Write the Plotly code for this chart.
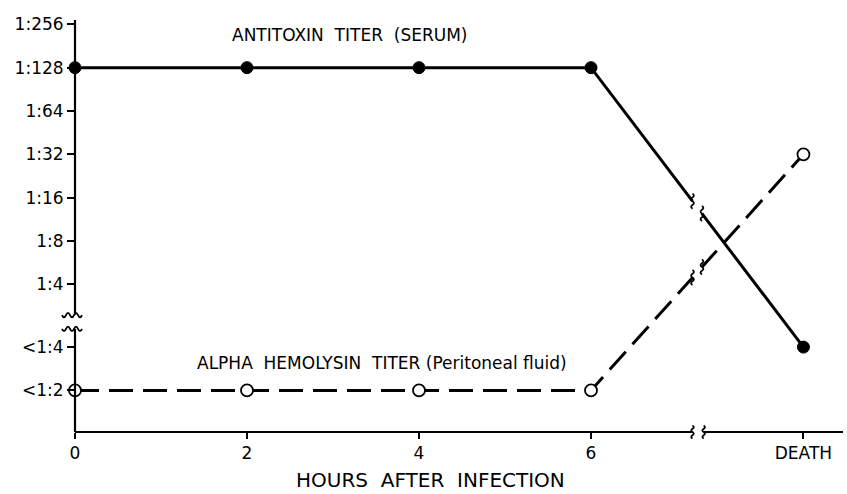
import plotly.graph_objects as go

# ---------------- data ----------------
hour_labels = ["0", "2", "4", "6", "DEATH"]
hours = [0, 2, 4, 6]
titer_levels = ["<1:2", "<1:4", "1:4", "1:8", "1:16", "1:32", "1:64", "1:128", "1:256"]
antitoxin = ["1:128", "1:128", "1:128", "1:128", "<1:4"]
hemolysin = ["<1:2", "<1:2", "<1:2", "<1:2", "1:32"]

# ---------------- layout constants ----------------
W, H = 847, 494
ML, MR, MT, MB = 75, 4, 20, 62
XR = [0, 8.93]
YR = [-0.96, 8.55]
DEATH_X = 8.47          # position of DEATH after the axis break
Y_GAP = 0.45            # extra space at the y-axis break
X_BREAK = (7.18, 7.31)
Y_BREAK = (1.42, 1.74)
LINE_BREAK = (7.18, 7.29)

PX = (W - ML - MR) / (XR[1] - XR[0])
PY = (H - MT - MB) / (YR[1] - YR[0])


def ypos(level):
    i = titer_levels.index(level)
    return i + (Y_GAP if i >= 2 else 0)


xs = hours + [DEATH_X]
y_anti = [ypos(v) for v in antitoxin]
y_hemo = [ypos(v) for v in hemolysin]


def px_(x, dx=0):
    return (x - XR[0]) / (XR[1] - XR[0]) + dx / (W - ML - MR)


def py_(y, dy=0):
    return (y - YR[0]) / (YR[1] - YR[0]) - dy / (H - MT - MB)


def pt(x, y, dx, dy):
    return f"{px_(x, dx):.5f},{py_(y, dy):.5f}"


def vwave(x, y, h=14, a=3.0):
    s = h / 4
    p = "M" + pt(x, y, 0, -2 * s)
    p += " Q" + pt(x, y, a, -1.5 * s) + " " + pt(x, y, 0, -s)
    p += " Q" + pt(x, y, -a, -0.5 * s) + " " + pt(x, y, 0, 0)
    p += " Q" + pt(x, y, a, 0.5 * s) + " " + pt(x, y, 0, s)
    p += " Q" + pt(x, y, -a, 1.5 * s) + " " + pt(x, y, 0, 2 * s)
    return p


def hwave(x, y, x0, x1, n=5, a=2.2):
    step = (x1 - x0) / n
    p = "M" + pt(x, y, x0, 0)
    for k in range(n):
        sgn = 1 if k % 2 == 0 else -1
        p += " Q" + pt(x, y, x0 + step * (k + 0.5), sgn * a * 2) + " " + pt(x, y, x0 + step * (k + 1), 0)
    return p


fig = go.Figure()

fig.add_trace(go.Scatter(
    x=xs, y=y_anti, mode="lines+markers",
    line=dict(color="black", width=3),
    marker=dict(size=12, color="black", line=dict(color="black", width=1)),
    cliponaxis=False, showlegend=False,
))
fig.add_trace(go.Scatter(
    x=xs, y=y_hemo, mode="lines+markers",
    line=dict(color="black", width=3, dash="24px,10px"),
    marker=dict(size=12, color="white", line=dict(color="black", width=1.8)),
    cliponaxis=False, showlegend=False,
))

shapes = []
black = dict(color="black", width=2.2)
# axis lines with breaks
shapes.append(dict(type="line", xref="paper", yref="paper", x0=px_(0), x1=px_(0),
                   y0=py_(YR[0]), y1=py_(Y_BREAK[0]), line=black))
shapes.append(dict(type="line", xref="paper", yref="paper", x0=px_(0), x1=px_(0),
                   y0=py_(Y_BREAK[1]), y1=py_(YR[1]), line=black))
shapes.append(dict(type="line", xref="paper", yref="paper", x0=px_(0), x1=px_(X_BREAK[0]),
                   y0=py_(YR[0]), y1=py_(YR[0]), line=black))
shapes.append(dict(type="line", xref="paper", yref="paper", x0=px_(X_BREAK[1]), x1=px_(XR[1]),
                   y0=py_(YR[0]), y1=py_(YR[0]), line=black))
# y-axis break squiggles
for yb in Y_BREAK:
    shapes.append(dict(type="path", xref="paper", yref="paper", path=hwave(0, yb, -13, 7),
                       line=dict(color="black", width=1.8)))
# x-axis break squiggles
for xb in X_BREAK:
    shapes.append(dict(type="path", xref="paper", yref="paper", path=vwave(xb, YR[0], h=13, a=2.6),
                       line=dict(color="black", width=1.8)))


# line breaks on the DEATH segments
def on_line(ys, x):
    return ys[3] + (ys[4] - ys[3]) * (x - xs[3]) / (xs[4] - xs[3])


for ys in (y_anti, y_hemo):
    x1, x2 = LINE_BREAK
    shapes.append(dict(type="line", xref="paper", yref="paper",
                       x0=px_(x1), y0=py_(on_line(ys, x1)), x1=px_(x2), y1=py_(on_line(ys, x2)),
                       line=dict(color="white", width=7)))
    for xb in LINE_BREAK:
        shapes.append(dict(type="path", xref="paper", yref="paper",
                           path=vwave(xb, on_line(ys, xb), h=15, a=2.8),
                           line=dict(color="black", width=1.8)))

font = "DejaVu Sans"
annotations = [
    dict(text="ANTITOXIN\u00a0\u00a0TITER\u00a0\u00a0(SERUM)", xref="paper", yref="paper",
         x=(230 - ML) / (W - ML - MR), y=(H - MB - 35) / (H - MT - MB),
         xanchor="left", yanchor="middle", showarrow=False,
         font=dict(family=font, size=17, color="black")),
    dict(text="ALPHA\u00a0\u00a0HEMOLYSIN\u00a0\u00a0TITER (Peritoneal fluid)", xref="paper", yref="paper",
         x=(195 - ML) / (W - ML - MR), y=(H - MB - 363) / (H - MT - MB),
         xanchor="left", yanchor="middle", showarrow=False,
         font=dict(family=font, size=17, color="black")),
    dict(text="HOURS\u00a0\u00a0AFTER\u00a0\u00a0INFECTION", xref="paper", yref="paper",
         x=(430 - ML) / (W - ML - MR), y=(H - MB - 480) / (H - MT - MB),
         xanchor="center", yanchor="middle", showarrow=False,
         font=dict(family=font, size=20, color="black")),
]

fig.update_layout(
    width=W, height=H,
    margin=dict(l=ML, r=MR, t=MT, b=MB, pad=0),
    paper_bgcolor="white", plot_bgcolor="white",
    shapes=shapes, annotations=annotations,
    font=dict(family=font, color="black"),
    xaxis=dict(range=XR, tickvals=xs, ticktext=hour_labels, showgrid=False, zeroline=False,
               showline=False, ticks="outside", ticklen=6, tickwidth=2, tickcolor="black",
               tickfont=dict(family=font, size=17, color="black"), automargin=False),
    yaxis=dict(range=YR, tickvals=[ypos(l) for l in titer_levels], ticktext=titer_levels,
               showgrid=False, zeroline=False, showline=False, ticks="outside", ticklen=7,
               tickwidth=2, tickcolor="black",
               tickfont=dict(family=font, size=17, color="black"), automargin=False),
)

fig.write_html("out.html", config={"displayModeBar": False},
               post_script="document.body.style.margin='0';document.body.style.overflow='hidden';")
